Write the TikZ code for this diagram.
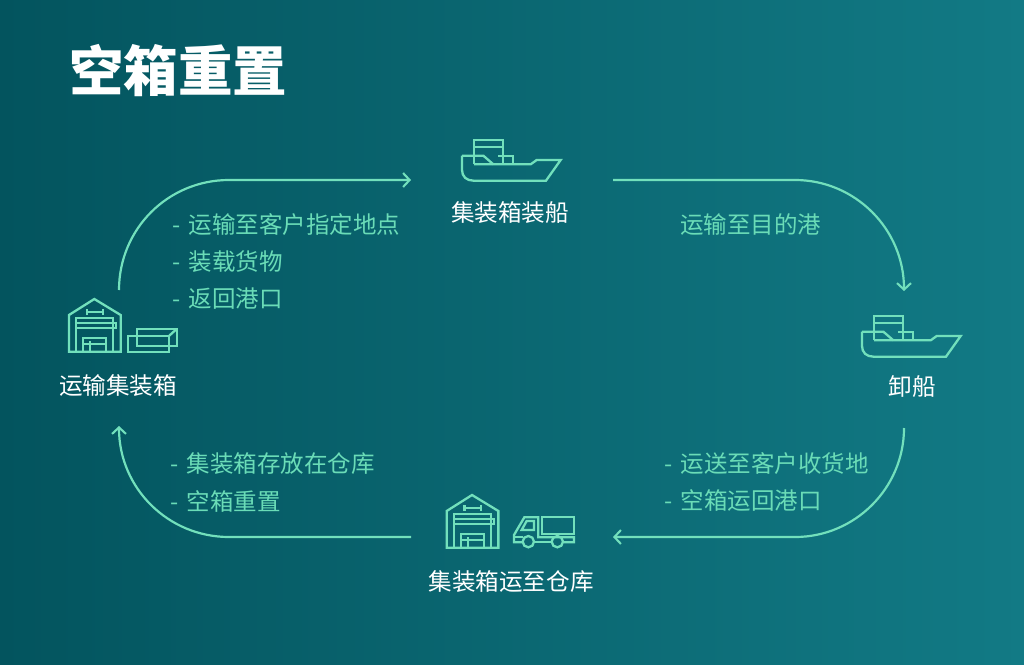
\documentclass[tikz,border=0pt]{standalone}
\usepackage{fontspec}
\setmainfont{Noto Sans CJK SC}
\usetikzlibrary{arrows.meta}
\definecolor{bgl}{HTML}{03545E}
\definecolor{bgr}{HTML}{127A85}
\definecolor{mint}{HTML}{72E0BC}
\definecolor{txtg}{HTML}{6ADCB7}
\newcommand{\dsh}{-\hspace{3pt} }
\tikzset{
  x=1pt,y=-1pt,
  ic/.style={draw=mint,line width=2.3pt,line join=miter},
  conn/.style={draw=mint,line width=2.2pt,-{Straight Barb[length=6.5pt,width=14pt,line width=2.1pt]}},
  lab/.style={text=white,font=\fontsize{23.6pt}{28pt}\selectfont,inner sep=0pt,anchor=center},
  note/.style={text=txtg,font=\fontsize{23.5pt}{28pt}\selectfont,inner sep=0pt,anchor=west},
  ship/.pic={
    \begin{scope}[x=0.3333pt,y=-0.3333pt]
    \draw[ic] (66,107) -- (66,150) .. controls (66,170) and (80,182) .. (100,182) -- (318,182) -- (362,120) -- (290,120) -- (272,133) -- (102,133);
    \draw[ic] (66,107) -- (130,107) -- (160,133);
    \draw[ic] (102,133) -- (102,60) -- (190,60) -- (190,133);
    \draw[ic] (102,80) -- (190,80);
    \draw[ic] (175,107) -- (220,107) -- (220,133);
    \end{scope}
  },
  house/.pic={
    \begin{scope}[x=0.3333pt,y=-0.3333pt]
    \draw[ic] (57,200) -- (57,90) -- (133,42) -- (212,90) -- (212,200) -- cycle;
    \draw[ic] (78,200) -- (78,100) -- (190,100) -- (190,200);
    \draw[ic] (78,115) -- (198,115) -- (198,130) -- (78,130);
    \draw[ic] (110,82) -- (160,82) (110,73) -- (110,90) (160,73) -- (160,90);
    \draw[ic] (100,200) -- (100,158) -- (168,158) -- (168,200);
    \draw[ic] (100,178) -- (168,178) (120,168) -- (120,200);
    \end{scope}
  }
}
\begin{document}
\begin{tikzpicture}
\useasboundingbox (0,0) rectangle (1024,664);
\shade[left color=bgl,right color=bgr] (0,0) rectangle (1024,664);
\node[text=white,inner sep=0pt,anchor=west,font=\fontsize{54.5pt}{60pt}\selectfont\bfseries] (title) at (69,71) {空箱重置};

% icons
\pic at (440,120) {ship};
\pic at (840,296) {ship};
\pic at (50,285) {house};
\pic at (427.7,481) {house};
\begin{scope}[shift={(50,285)},x=0.3333pt,y=-0.3333pt]
  \draw[ic] (235,152) rectangle (358,200);
  \draw[ic] (260,132) rectangle (380,182);
  \draw[ic] (358,152) -- (380,132);
\end{scope}
\begin{scope}[shift={(430,485)},x=0.3333pt,y=-0.3333pt]
  \draw[ic] (335,97) rectangle (432,147);
  \draw[ic] (278,172) -- (252,172) -- (252,150) -- (283,97) -- (325,97) -- (325,157) -- (432,157) -- (432,172) -- (400,172);
  \draw[ic] (312,172) -- (365,172);
  \draw[ic] (275,135) -- (290,108) -- (312,108) -- (312,135) -- cycle;
  \draw[ic] (252,157) -- (278,157);
  \draw[ic] (295,170) circle[radius=17];
  \draw[ic] (382,170) circle[radius=17];
\end{scope}

% labels
\node[lab] (ship1) at (510,213) {集装箱装船};
\node[lab] (ship2) at (912,387) {卸船};
\node[lab] (trans) at (118,386) {运输集装箱};
\node[lab] (ware) at (511,582) {集装箱运至仓库};

\node[note] (n1) at (172,225) {\dsh 运输至客户指定地点};
\node[note] (n2) at (172,262) {\dsh 装载货物};
\node[note] (n3) at (172,299) {\dsh 返回港口};
\node[note] (n4) at (680,225) {运输至目的港};
\node[note] (n5) at (170,464) {\dsh 集装箱存放在仓库};
\node[note] (n6) at (170,501) {\dsh 空箱重置};
\node[note] (n7) at (664,464) {\dsh 运送至客户收货地};
\node[note] (n8) at (664,501) {\dsh 空箱运回港口};

% connector ends
\coordinate (a1) at (119,290);
\coordinate (a2) at (411,180);
\coordinate (b1) at (613,180);
\coordinate (b2) at (904,291);
\coordinate (c1) at (904,428);
\coordinate (c2) at (613,537);
\coordinate (d1) at (411,537);
\coordinate (d2) at (119,426);
\draw[conn] (a1) .. controls (119,229) and (168,180) .. (229,180) -- (a2);
\draw[conn] (b1) -- (795,180) .. controls (855,180) and (904,229) .. (b2);
\draw[conn] (c1) .. controls (904,488) and (855,537) .. (795,537) -- (c2);
\draw[conn] (d1) -- (229,537) .. controls (168,537) and (119,488) .. (d2);
\end{tikzpicture}
\end{document}
